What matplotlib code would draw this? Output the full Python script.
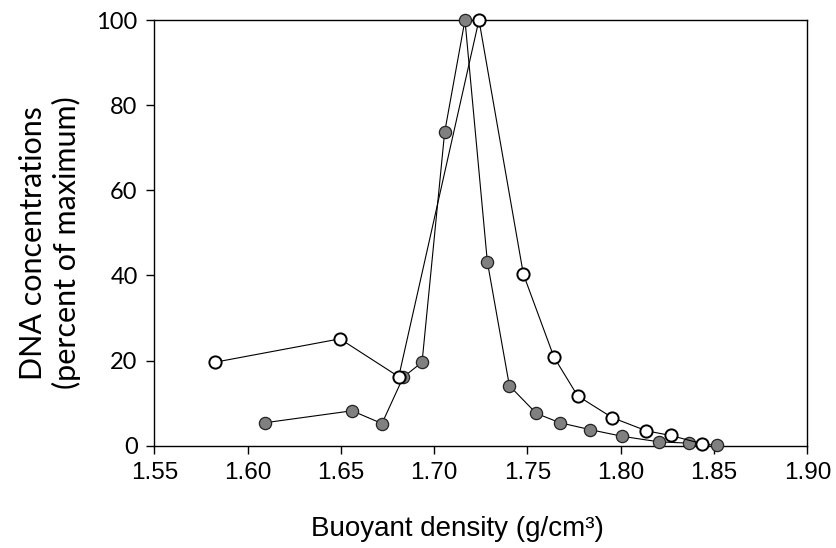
import matplotlib
matplotlib.use("Agg")
from matplotlib import pyplot as plt
from matplotlib.ticker import FormatStrFormatter

# filled (grey) profile
grey_density = [1.6095, 1.656, 1.672, 1.6834, 1.6935, 1.7056, 1.7165, 1.7285,
                1.7403, 1.7547, 1.7673, 1.7833, 1.8008, 1.8205, 1.8364, 1.8516]
grey_conc = [5.4, 8.2, 5.2, 16.1, 19.6, 73.6, 100, 43.2,
             14.1, 7.6, 5.4, 3.8, 2.2, 0.9, 0.6, 0.1]

# open (white) profile
white_density = [1.5824, 1.6495, 1.681, 1.724, 1.7478, 1.7642, 1.7769,
                 1.7954, 1.8137, 1.8267, 1.8434]
white_conc = [19.6, 25.1, 16.2, 100, 40.3, 20.8, 11.7, 6.6, 3.5, 2.4, 0.5]

x_ticks = [1.55, 1.60, 1.65, 1.70, 1.75, 1.80, 1.85, 1.90]
y_ticks = [0, 20, 40, 60, 80, 100]

arial = ['Liberation Sans', 'DejaVu Sans']
calibri = ['Lato', 'DejaVu Sans']

fig = plt.figure(figsize=(8.36, 5.48), dpi=100)
ax = fig.add_axes([0.1846, 0.1867, 0.7811, 0.7768])

ax.plot(grey_density, grey_conc, color='black', lw=0.8, marker='o', ms=8.8,
        mfc='#808080', mec='#222222', mew=0.9, clip_on=False, zorder=3)
ax.plot(white_density, white_conc, color='black', lw=0.8, marker='o', ms=8.8,
        mfc='white', mec='black', mew=1.4, clip_on=False, zorder=4)

ax.set_xlim(1.55, 1.90)
ax.set_ylim(0, 100)
ax.set_xticks(x_ticks)
ax.set_yticks(y_ticks)
ax.xaxis.set_major_formatter(FormatStrFormatter('%.2f'))
ax.tick_params(direction='out', length=6, width=1, color='black', pad=6)
ax.tick_params(axis='x', labelfontfamily=arial, labelsize=17.5)
ax.tick_params(axis='y', labelfontfamily=calibri, labelsize=17)

for sp in ax.spines.values():
    sp.set_linewidth(1.0)

ax.set_xlabel('Buoyant density (g/cm³)', family=arial, fontsize=20)
ax.xaxis.set_label_coords(0.4636, -0.165)
ax.set_ylabel('DNA concentrations\n(percent of maximum)', family=calibri,
              fontsize=22)
ax.yaxis.set_label_coords(-0.113, 0.476)

fig.savefig('out.png', dpi=100)
